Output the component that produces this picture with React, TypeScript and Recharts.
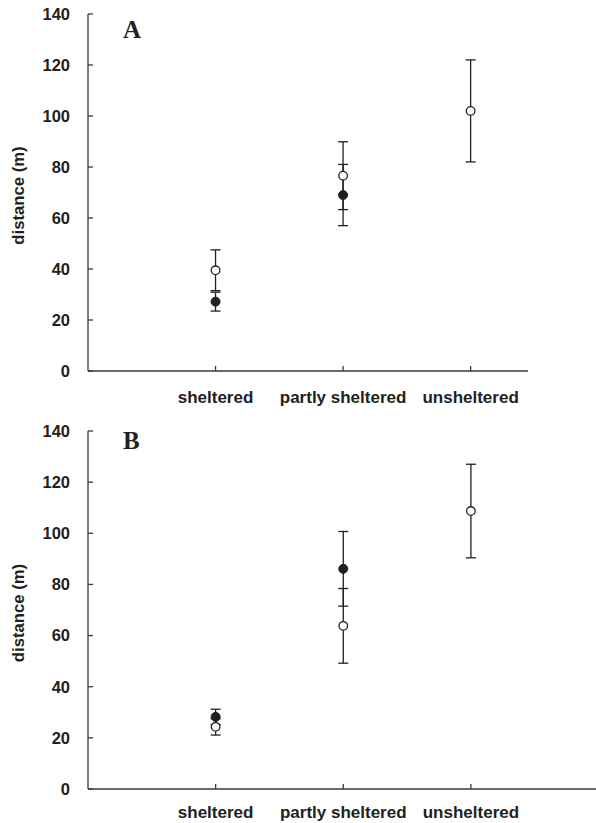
import React from "react";
import { ScatterChart, Scatter, XAxis, YAxis, ErrorBar } from "recharts";

const categories = ["sheltered", "partly sheltered", "unsheltered"];
const yTicks = [0, 20, 40, 60, 80, 100, 120, 140];

// Panel A
const aFilledMean = [27.2, 69.0];
const aFilledErr = [3.7, 12.0];
const aOpenMean = [39.5, 76.6, 102.0];
const aOpenErr = [8.0, 13.3, 20.0];

// Panel B
const bFilledMean = [28.2, 86.1];
const bFilledErr = [3.0, 14.6];
const bOpenMean = [24.3, 63.8, 108.7];
const bOpenErr = [3.2, 14.6, 18.3];

const INK = "#231f20";
const AXIS = "#3a3a3a";
const FONT = "'Liberation Sans', Arial, Helvetica, sans-serif";

const toPoints = (means: number[], errs: number[]) =>
  means.map((m, i) => ({ x: i + 1, y: m, err: errs[i] }));

const FilledDot = (p: any) => (
  <circle cx={p.cx} cy={p.cy} r={4.5} fill={INK} stroke={INK} strokeWidth={1} />
);
const OpenDot = (p: any) => (
  <circle cx={p.cx} cy={p.cy} r={4.3} fill="#ffffff" stroke={INK} strokeWidth={1.3} />
);

const xTickStyle = { fontFamily: FONT, fontWeight: 700, fontSize: 17, fill: INK };
const yTickStyle = { fontFamily: FONT, fontWeight: 700, fontSize: 16.5, fill: INK };

const YLabel = (props: any) => {
  const vb = props.viewBox || {};
  const cx = 18;
  const cy = (vb.y || 0) + (vb.height || 0) / 2 + 3;
  return (
    <text
      x={cx}
      y={cy}
      transform={`rotate(-90, ${cx}, ${cy})`}
      textAnchor="middle"
      dominantBaseline="central"
      style={{ fontFamily: FONT, fontWeight: 700, fontSize: 16.7, fill: INK }}
    >
      distance (m)
    </text>
  );
};

type PanelProps = {
  width: number;
  height: number;
  marginTop: number;
  marginRight: number;
  xAxisHeight: number;
  xDomainMax: number;
  xTickMargin: number;
  filled: { x: number; y: number; err: number }[];
  open: { x: number; y: number; err: number }[];
};

const Panel = (pp: PanelProps) => (
  <ScatterChart
    width={pp.width}
    height={pp.height}
    margin={{ top: pp.marginTop, right: pp.marginRight, bottom: 0, left: 0 }}
  >
    <XAxis
      type="number"
      dataKey="x"
      domain={[0, pp.xDomainMax]}
      ticks={[1, 2, 3]}
      interval={0}
      tickFormatter={(v: number) => categories[v - 1] ?? ""}
      height={pp.xAxisHeight}
      tickSize={-5}
      tickMargin={pp.xTickMargin}
      axisLine={{ stroke: AXIS, strokeWidth: 1.3 }}
      tickLine={{ stroke: AXIS, strokeWidth: 1.3 }}
      tick={xTickStyle}
      allowDataOverflow
    />
    <YAxis
      type="number"
      dataKey="y"
      domain={[0, 140]}
      ticks={yTicks}
      interval={0}
      width={88}
      tickSize={-5}
      tickMargin={23}
      axisLine={{ stroke: AXIS, strokeWidth: 1.3 }}
      tickLine={{ stroke: AXIS, strokeWidth: 1.3 }}
      tick={yTickStyle}
      label={<YLabel />}
    />
    <Scatter data={pp.filled} shape={FilledDot} isAnimationActive={false}>
      <ErrorBar dataKey="err" direction="y" width={5} stroke={INK} strokeWidth={1.3} />
    </Scatter>
    <Scatter data={pp.open} shape={OpenDot} isAnimationActive={false}>
      <ErrorBar dataKey="err" direction="y" width={5} stroke={INK} strokeWidth={1.3} />
    </Scatter>
  </ScatterChart>
);

const panelLetter = (top: number): React.CSSProperties => ({
  position: "absolute",
  left: 123,
  top,
  fontFamily: "'Liberation Serif', 'Times New Roman', serif",
  fontWeight: 700,
  fontSize: 25,
  lineHeight: 1,
  color: INK,
});

export default function App() {
  return (
    <div
      style={{
        position: "absolute",
        left: 0,
        top: 0,
        width: 596,
        height: 823,
        background: "#ffffff",
      }}
    >
      <div style={{ position: "absolute", left: 0, top: 0 }}>
        <Panel
          width={596}
          height={411}
          marginTop={14}
          marginRight={68}
          xAxisHeight={40}
          xDomainMax={3.45}
          xTickMargin={25}
          filled={toPoints(aFilledMean, aFilledErr)}
          open={toPoints(aOpenMean, aOpenErr)}
        />
      </div>
      <div style={{ position: "absolute", left: 0, top: 411 }}>
        <Panel
          width={596}
          height={412}
          marginTop={20}
          marginRight={0}
          xAxisHeight={34}
          xDomainMax={3.98}
          xTickMargin={22}
          filled={toPoints(bFilledMean, bFilledErr)}
          open={toPoints(bOpenMean, bOpenErr)}
        />
      </div>
      <div style={panelLetter(17)}>A</div>
      <div style={panelLetter(428)}>B</div>
    </div>
  );
}
